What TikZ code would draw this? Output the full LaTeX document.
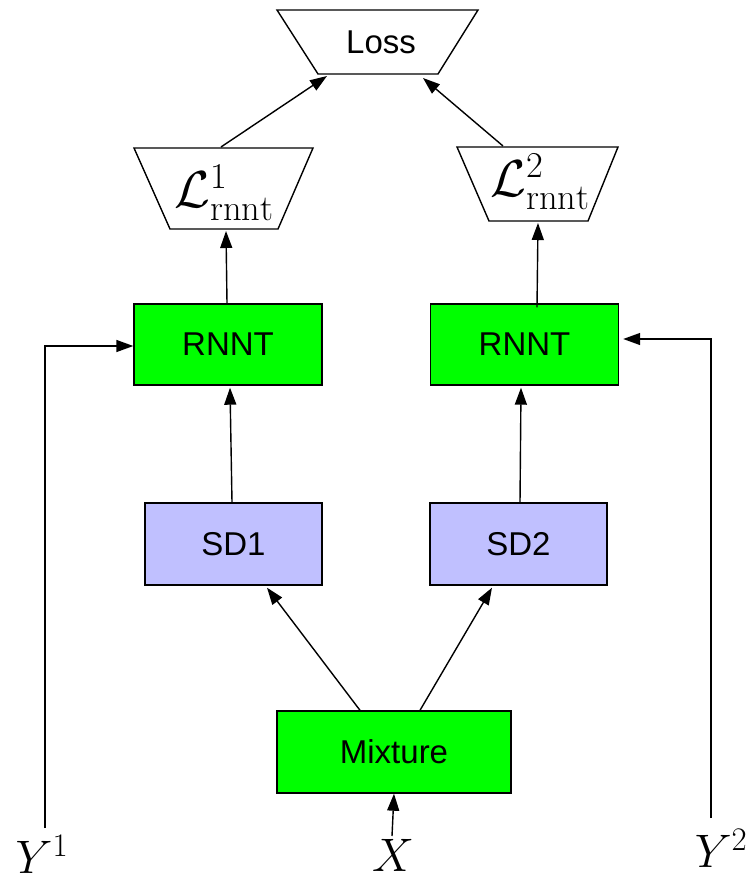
\RequirePackage{fix-cm}
\documentclass[tikz,border=0pt]{standalone}
\usepackage{fontspec}
\newfontfamily\hv{Liberation Sans}
\usetikzlibrary{arrows.meta}
\definecolor{boxgreen}{RGB}{0,255,0}
\definecolor{sdblue}{RGB}{192,192,255}
\tikzset{
  every picture/.style={x=1pt,y=-1pt},
  conn/.style={line width=1.4pt,-{Triangle[length=17pt,width=12pt]}},
  frame/.style={draw,line width=1.4pt},
  blk/.style={draw,line width=1.4pt,inner sep=0pt,font=\hv\fontsize{33}{38}\selectfont},
  rnntbox/.style={blk,fill=boxgreen,minimum width=188pt,minimum height=81pt},
  sdbox/.style={blk,fill=sdblue,minimum width=177pt,minimum height=82pt},
  lbl/.style={inner sep=0pt,font=\hv\fontsize{33}{38}\selectfont},
  mlbl/.style={inner sep=0pt,font=\fontsize{47}{54}\selectfont},
  llbl/.style={inner sep=0pt,font=\fontsize{52}{60}\selectfont},
}
\begin{document}
\begin{tikzpicture}
\useasboundingbox (0,0) rectangle (753,877);

% loss head
\draw[frame] (277,10) -- (478,10) -- (438,74) -- (318,74) -- cycle;
\node[lbl] (loss) at (381,42) {Loss};
\coordinate (lossL) at (327,76);
\coordinate (lossR) at (423,78);

% per-speaker transducer losses
\draw[frame] (134,148) -- (313,148) -- (278,229) -- (170,229) -- cycle;
\node[llbl] (l1) at (224,193) {$\mathcal{L}^1_{\mathrm{rnnt}}$};
\coordinate (l1top) at (221,147);
\coordinate (l1bot) at (226,231);

\draw[frame] (457,147) -- (618,147) -- (588,221) -- (489,221) -- cycle;
\node[llbl] (l2) at (540,182) {$\mathcal{L}^2_{\mathrm{rnnt}}$};
\coordinate (l2top) at (503,146);
\coordinate (l2bot) at (538,223);

% blocks
\node[rnntbox] (rnnt1) at (228,344.5) {RNNT};
\node[rnntbox] (rnnt2) at (524.5,344.5) {RNNT};
\node[sdbox] (sd1) at (233.5,544) {SD1};
\node[sdbox] (sd2) at (518.5,544) {SD2};
\node[blk,fill=boxgreen,minimum width=234pt,minimum height=82pt] (mix) at (394,752) {Mixture};

% inputs
\node[mlbl] (y1) at (42,854) {$Y^1$};
\node[mlbl] (x) at (393,855) {$X$};
\node[mlbl] (y2) at (721,848) {$Y^2$};
\coordinate (y1top) at (45,828);
\coordinate (y2top) at (711,818);
\coordinate (xtop) at (392,836);

% connectors
\draw[conn] (xtop) -- (mix.south);
\draw[conn] ([xshift=-34pt]mix.north) -- ([xshift=33.5pt,yshift=-2pt]sd1.south);
\draw[conn] ([xshift=26pt]mix.north) -- ([xshift=-26.5pt,yshift=-2pt]sd2.south);
\draw[conn] ([xshift=-1.5pt]sd1.north) -- ([xshift=2pt,yshift=-2pt]rnnt1.south);
\draw[conn] ([xshift=1.5pt]sd2.north) -- ([xshift=-3.5pt,yshift=-2pt]rnnt2.south);
\draw[conn] ([xshift=-1pt]rnnt1.north) -- (l1bot);
\draw[conn] ([xshift=12.5pt,yshift=-4pt]rnnt2.north) -- (l2bot);
\draw[conn] (l1top) -- (lossL);
\draw[conn] (l2top) -- (lossR);
\draw[conn] (y1top) |- ([yshift=-1.5pt]rnnt1.west);
\draw[conn] (y2top) |- ([xshift=4pt,yshift=5.5pt]rnnt2.east);
\end{tikzpicture}
\end{document}
